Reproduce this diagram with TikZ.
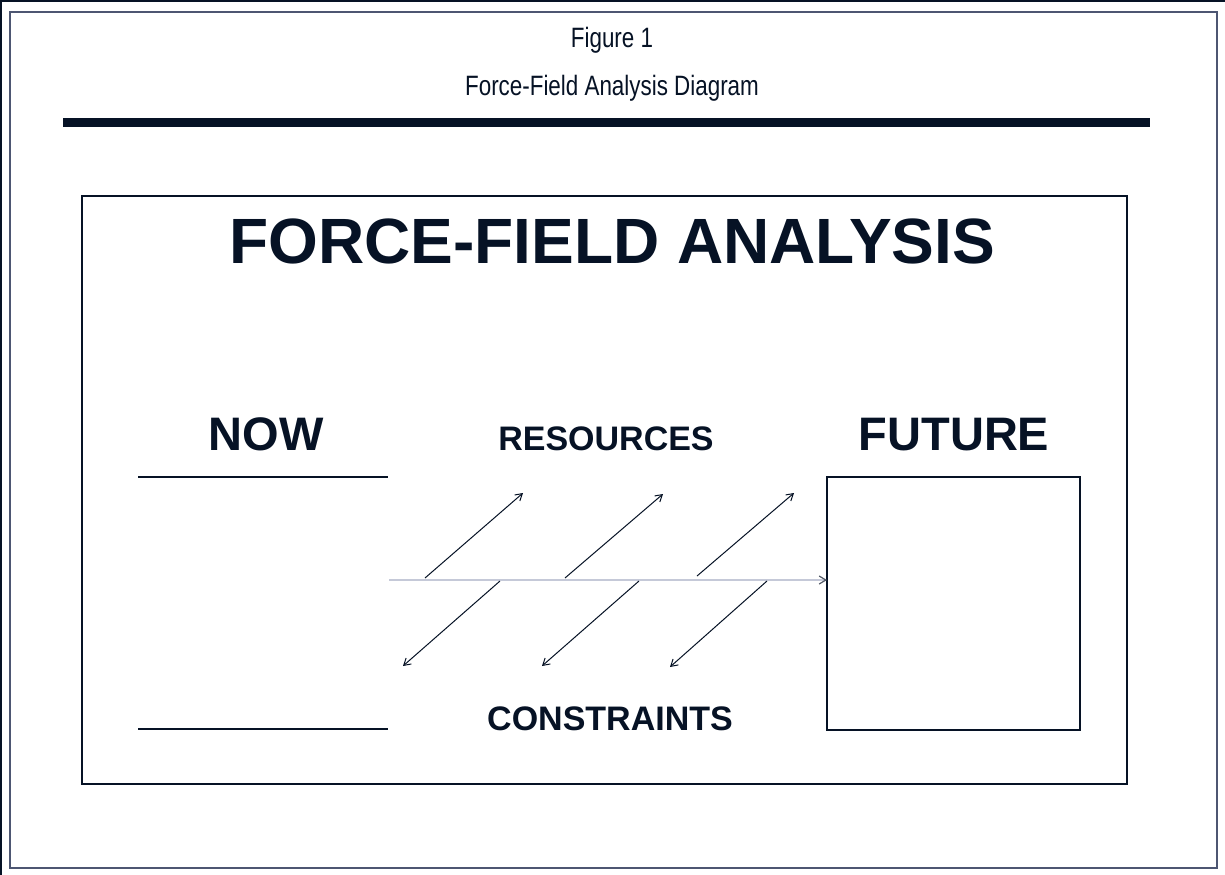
\documentclass[tikz,border=0pt]{standalone}
\usepackage{fontspec}
\setmainfont{Liberation Sans}
\newfontfamily\headfont[FakeStretch=0.8]{Liberation Sans}
\newfontfamily\boldfont{Liberation Sans Bold}
\usetikzlibrary{arrows.meta}
\definecolor{ink}{HTML}{061225}
\definecolor{framegray}{HTML}{4D5672}
\definecolor{faint}{HTML}{C5C9D8}
\tikzset{
  headtxt/.style={inner sep=0pt, anchor=base, text=ink, font=\headfont\fontsize{21}{21}\selectfont},
  bigtxt/.style={inner sep=0pt, anchor=base, text=ink, font=\boldfont\fontsize{35.25}{35.25}\selectfont},
  midtxt/.style={inner sep=0pt, anchor=base, text=ink, font=\boldfont\fontsize{25.5}{25.5}\selectfont},
  force/.style={draw=ink, line width=0.75pt, -{Straight Barb[length=5pt,width=6pt]}},
  flow/.style={draw=faint, line width=0.9pt, -{Straight Barb[length=5pt,width=6pt,color=ink!70]}},
  nowline/.style={draw=ink, line width=2pt}
}
\begin{document}
\begin{tikzpicture}[x=0.75pt,y=-0.75pt]
\useasboundingbox (0,0) rectangle (1225,875);
\fill[white] (0,0) rectangle (1225,875);
% outer edges
\draw[ink, line width=1.5pt] (1,875) -- (1,1) -- (1225,1);
\draw[framegray, line width=1.4pt] (10,12) rectangle (1217,868);
% header
\node[headtxt] (fig) at (612,47.5) {Figure 1};
\node[headtxt] (sub) at (612,95) {Force-Field Analysis Diagram};
\fill[ink] (63,118) rectangle (1150,127);
% inner box
\draw[ink, line width=1.4pt] (82,196) rectangle (1127,784);
\node[inner sep=0pt, anchor=base west, text=ink, font=\boldfont\fontsize{48}{48}\selectfont] (title) at (229,263) {FORCE-FIELD ANALYSIS};
% labels
\node[bigtxt] (now) at (266,450) {NOW};
\node[midtxt] (res) at (606,450) {RESOURCES};
\node[bigtxt] (fut) at (954,450) {FUTURE};
\node[midtxt] (con) at (610,730) {CONSTRAINTS};
% now lines
\coordinate (n1a) at (138,477); \coordinate (n1b) at (388,477);
\coordinate (n2a) at (138,729); \coordinate (n2b) at (388,729);
\draw[nowline] (n1a) -- (n1b);
\draw[nowline] (n2a) -- (n2b);
% future box
\node[draw=ink, line width=1.5pt, minimum width=189.75pt, minimum height=189.75pt, inner sep=0pt, outer sep=0pt] (fbox) at (953.5,603.5) {};
% flow line
\coordinate (h0) at (389,580);
\draw[flow] (h0) -- (fbox.west |- h0);
% resources arrows
\coordinate (u1s) at (425,578); \coordinate (u1e) at (523,493);
\coordinate (u2s) at (565,578); \coordinate (u2e) at (663,494);
\coordinate (u3s) at (697,576); \coordinate (u3e) at (794,493);
\draw[force] (u1s) -- (u1e);
\draw[force] (u2s) -- (u2e);
\draw[force] (u3s) -- (u3e);
% constraint arrows
\coordinate (d1s) at (500,581); \coordinate (d1e) at (403,666);
\coordinate (d2s) at (639,581); \coordinate (d2e) at (542,666);
\coordinate (d3s) at (767,581); \coordinate (d3e) at (670,667);
\draw[force] (d1s) -- (d1e);
\draw[force] (d2s) -- (d2e);
\draw[force] (d3s) -- (d3e);
\end{tikzpicture}
\end{document}
